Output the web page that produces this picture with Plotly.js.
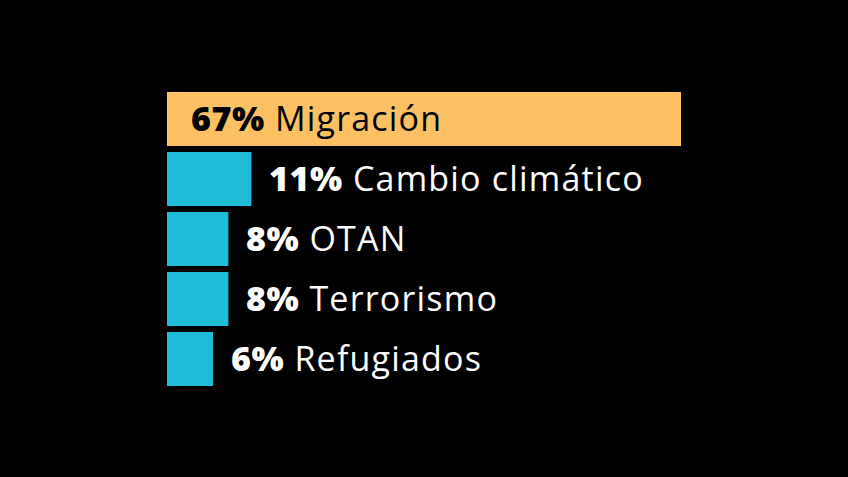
<!DOCTYPE html>
<html><head><meta charset="utf-8">
<script src="https://cdn.plot.ly/plotly-3.0.1.min.js"></script>
<style>html,body{margin:0;padding:0;background:#000;}#chart{width:848px;height:477px;}</style>
</head><body><div id="chart"></div>
<script>
var categories = ["Migración", "Cambio climático", "OTAN", "Terrorismo", "Refugiados"];
var values = [67, 11, 8, 8, 6];
var barColors = ["#FDC163", "#1FBCD7", "#1FBCD7", "#1FBCD7", "#1FBCD7"];
var labelColors = ["#000000", "#FFFFFF", "#FFFFFF", "#FFFFFF", "#FFFFFF"];

var FONT = "'Open Sans', 'Noto Sans', sans-serif";
var trace = {
  type: "bar", orientation: "h",
  x: values, y: categories,
  marker: {color: barColors, line: {width: 0}},
  width: 0.9, hoverinfo: "none", showlegend: false
};
var annotations = categories.map(function(c, i){
  var inside = i === 0;
  return {
    x: inside ? 0 : values[i], y: c, xref: "x", yref: "y",
    xanchor: "left", yanchor: "middle", showarrow: false,
    xshift: inside ? 22 : 16, yshift: 1,
    text: '<span style="font-weight:800;letter-spacing:0.6px">' + values[i] + '%</span>' +
          '<span style="letter-spacing:1.2px"> ' + c + '</span>',
    font: {family: FONT, size: 34, color: labelColors[i]}
  };
});
var layout = {
  width: 848, height: 477,
  paper_bgcolor: "#000", plot_bgcolor: "#000",
  margin: {l: 167, r: 144, t: 89, b: 88, pad: 0},
  xaxis: {range: [0, 70], visible: false, fixedrange: true},
  yaxis: {autorange: false, range: [4.5, -0.5], visible: false, type: "category", fixedrange: true},
  annotations: annotations,
  font: {family: FONT}
};
Plotly.newPlot("chart", [trace], layout, {displayModeBar: false, staticPlot: true});
</script></body></html>
